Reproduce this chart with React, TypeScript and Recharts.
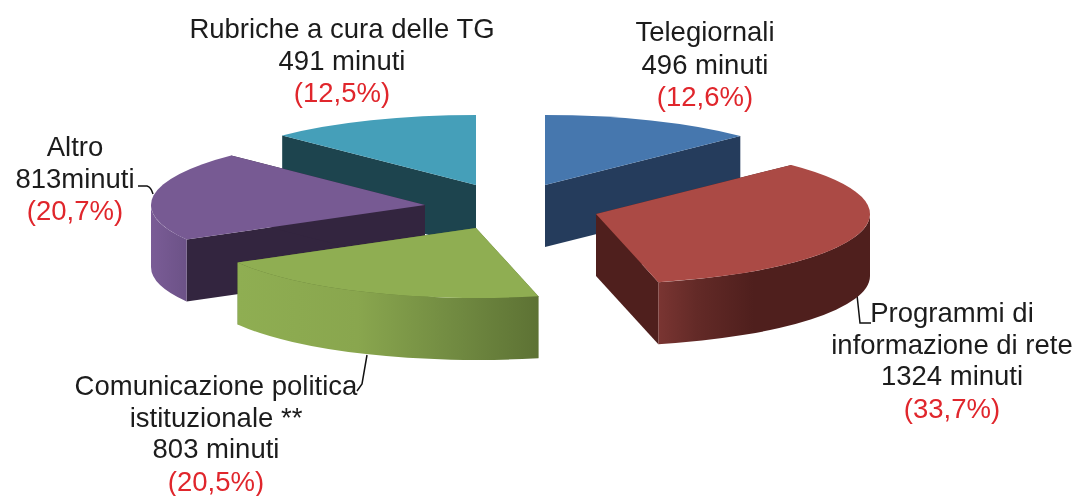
import React from 'react'
import { PieChart, Pie } from 'recharts'

const names = ['Telegiornali', 'Programmi', 'Comunicazione', 'Altro', 'Rubriche']
const minutes = [496, 1324, 803, 813, 491]

// back slices first, the front ones cover their walls
const paintOrder = ['Rubriche', 'Telegiornali', 'Altro', 'Programmi', 'Comunicazione']

const data = names.map((name, i) => ({ name, value: minutes[i] }))

const WIDTH = 1077
const HEIGHT = 496
const CX = 510
const CY = 205
const RX = 274
const RY = 70
const DEPTH = 62

const look: Record<string, any> = {
  Telegiornali: { dx: 35, dy: -20, top: '#4677ae', side: '#253c5c', wall: [[0, '#253c5c'], [1, '#253c5c']] },
  Programmi: { dx: 86, dy: 9, top: '#ab4a45', side: '#4f1f1d', wall: [[0, '#7a3532'], [0.18, '#632a27'], [0.45, '#4f1f1d'], [1, '#4f1f1d']] },
  Comunicazione: { dx: -34, dy: 23, top: '#8fae52', side: '#5d7234', wall: [[0, '#8fae52'], [0.4, '#89a64e'], [0.75, '#6f8840'], [1, '#5d7234']] },
  Altro: { dx: -85, dy: 0, top: '#775a93', side: '#33253f', wall: [[0, '#7a5c96'], [1, '#6c5287']] },
  Rubriche: { dx: -34, dy: -20, top: '#459fb9', side: '#1d444e', wall: [[0, '#1d444e'], [1, '#1d444e']] },
}

const labels = [
  { x: 342, lines: [['Rubriche a cura delle TG', 38], ['491 minuti', 70]], pct: ['(12,5%)', 102] },
  { x: 705, lines: [['Telegiornali', 41], ['496 minuti', 74]], pct: ['(12,6%)', 106] },
  { x: 75, lines: [['Altro', 156], ['813minuti', 188]], pct: ['(20,7%)', 220] },
  { x: 952, lines: [['Programmi di', 322], ['informazione di rete', 354], ['1324 minuti', 385]], pct: ['(33,7%)', 418] },
  { x: 216, lines: [['Comunicazione politica', 395], ['istituzionale **', 427], ['803 minuti', 458]], pct: ['(20,5%)', 491] },
]

const leaders = [
  'M138,186 L147,186 Q151,187 153,194',
  'M857,295 L860,323 L871,323',
  'M367,355 L362,384 L357,391',
]

function Slice3D(props: any, only: string) {
  const { name, startAngle, endAngle, cx, cy } = props
  if (name !== only) return <g />
  const s = look[name]
  const x0 = cx + s.dx
  const y0 = cy + s.dy
  const pt = (deg: number, h = 0) => {
    const a = (deg * Math.PI) / 180
    return `${x0 + RX * Math.cos(a)},${y0 - RY * Math.sin(a) + h}`
  }
  const radial = (deg: number) =>
    `M${x0},${y0} L${pt(deg)} L${pt(deg, DEPTH)} L${x0},${y0 + DEPTH} Z`

  // only the part of the rim in the lower half faces the viewer
  const from = Math.min(startAngle, 0)
  const to = Math.max(endAngle, -180)
  const gradId = `wall-${name}`

  return (
    <g>
      <defs>
        <linearGradient id={gradId} x1="0" y1="0" x2="1" y2="0">
          {s.wall.map(([o, c]: [number, string]) => (
            <stop key={o} offset={o} stopColor={c} />
          ))}
        </linearGradient>
      </defs>
      <path d={radial(startAngle)} fill={s.side} />
      <path d={radial(endAngle)} fill={s.side} />
      {from > to && (
        <path
          d={`M${pt(from)} A${RX},${RY} 0 0 1 ${pt(to)} L${pt(to, DEPTH)} A${RX},${RY} 0 0 0 ${pt(from, DEPTH)} Z`}
          fill={`url(#${gradId})`}
        />
      )}
      <path d={`M${x0},${y0} L${pt(startAngle)} A${RX},${RY} 0 0 1 ${pt(endAngle)} Z`} fill={s.top} />
    </g>
  )
}

export default function App() {
  return (
    <div style={{ position: 'absolute', left: 0, top: 0, width: WIDTH, height: HEIGHT, background: '#fff', filter: 'blur(0.6px)' }}>
      <PieChart width={WIDTH} height={HEIGHT} margin={{ top: 0, right: 0, bottom: 0, left: 0 }}>
        {paintOrder.map((only) => (
          <Pie
            key={only}
            data={data}
            dataKey="value"
            nameKey="name"
            cx={CX}
            cy={CY}
            innerRadius={0}
            outerRadius={RX}
            startAngle={90}
            endAngle={-270}
            isAnimationActive={false}
            shape={(p: any) => Slice3D(p, only)}
            activeShape={(p: any) => Slice3D(p, only)}
            inactiveShape={(p: any) => Slice3D(p, only)}
          />
        ))}
        <g fontFamily="'Liberation Sans', Arial, sans-serif" fontSize={27.5} textAnchor="middle">
          {leaders.map((d) => (
            <path key={d} d={d} fill="none" stroke="#111" strokeWidth={1.5} />
          ))}
          {labels.map((l) => (
            <g key={l.x}>
              {l.lines.map(([t, y]) => (
                <text key={t} x={l.x} y={y} fill="#1c1c1c">{t}</text>
              ))}
              <text x={l.x} y={l.pct[1]} fill="#e0262c">{l.pct[0]}</text>
            </g>
          ))}
        </g>
      </PieChart>
    </div>
  )
}
